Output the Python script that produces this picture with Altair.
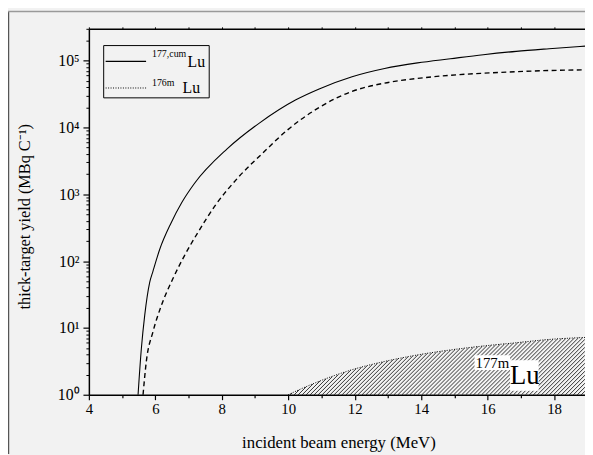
import altair as alt
import numpy as np
import pandas as pd

# ---- data ----
E_CUM = [5.48, 5.58, 5.68, 5.83, 5.93, 6.13, 6.47, 6.80, 7.17, 8.16, 9.14, 10.23, 10.93,
         11.92, 12.90, 13.89, 14.88, 15.87, 16.86, 17.85, 18.93]
Y_CUM = [1.0, 4.96, 15.4, 48, 71, 149, 370, 760, 1440, 4790, 11750, 26000, 37800,
         57500, 76400, 92700, 107000, 123000, 138000, 151000, 165000]

E_176M = [5.63, 5.73, 5.93, 6.18, 6.52, 6.87, 7.27, 7.81, 8.50, 9.25, 9.99, 10.93,
          11.92, 12.90, 13.89, 14.88, 15.87, 16.86, 17.85, 18.93]
Y_176M = [1.0, 3.18, 8.8, 21.6, 53.6, 119, 263, 689, 1800, 4230, 9300, 19950,
          34700, 46200, 54300, 60500, 64900, 68500, 71300, 72900]

E_177M = [10.0, 10.23, 10.93, 11.92, 12.90, 13.89, 14.88, 15.87, 16.86, 17.85, 18.93]
Y_177M = [1.0, 1.13, 1.59, 2.37, 3.15, 3.94, 4.68, 5.36, 6.0, 6.72, 7.2]

X_MAJOR = [4, 6, 8, 10, 12, 14, 16, 18]
X_MINOR = [5, 7, 9, 11, 13, 15, 17]
X_ALL = list(range(4, 19))
Y_MAJOR = [1, 10, 100, 1000, 10000, 100000]
Y_MINOR = [m * 10 ** k for k in range(5) for m in range(2, 10)] + [200000, 300000]
X_DOMAIN = [4, 18.93]
Y_DOMAIN = [1, 3e5]

X_TITLE = "incident beam energy (MeV)"
Y_TITLE = "thick-target yield (MBq C\u207b\u00b9)"
LEG_SUP = ["177,cum", "176m"]
LEG_MAIN = ["Lu", "Lu"]
ANN_SUP = "177m"
ANN_MAIN = "Lu"

W, H = 503, 371
FONT = "Liberation Serif, Times New Roman, serif"
BG = "#f2f2f2"

df_cum = pd.DataFrame({"E": E_CUM, "Y": Y_CUM})
df_176 = pd.DataFrame({"E": E_176M, "Y": Y_176M})
df_177 = pd.DataFrame({"E": E_177M, "Y": Y_177M})

# ---- hatch lines (45 deg in screen space) under the 177mLu curve ----
k = (W / (X_DOMAIN[1] - X_DOMAIN[0])) / (H / (np.log10(Y_DOMAIN[1]) - np.log10(Y_DOMAIN[0])))
grid = np.linspace(E_177M[0], X_DOMAIN[1], 3000)
logc = np.interp(grid, E_177M, np.log10(Y_177M))
rows = []
for e0 in np.arange(E_177M[0] + 0.06, X_DOMAIN[1], 0.12):
    m = grid > e0
    g, lc = grid[m], logc[m]
    f = k * (g - e0) - lc
    if np.any(f >= 0):
        i = int(np.argmax(f >= 0))
        e1, l1 = g[i], lc[i]
    else:
        e1 = X_DOMAIN[1]
        l1 = k * (e1 - e0)
    rows.append({"E": e0, "Y": 1.0, "E2": e1, "Y2": 10 ** l1})
df_hatch = pd.DataFrame(rows)

xs = alt.Scale(domain=X_DOMAIN, nice=False, zero=False)
ys = alt.Scale(type="log", domain=Y_DOMAIN, nice=False)

common = dict(domainColor="black", tickColor="black", labelColor="black",
              labelFont=FONT, titleFont=FONT, titleColor="black",
              titleFontWeight="normal", grid=False)

sup_expr = ("'10' + ['\u2070','\u00b9','\u00b2','\u00b3','\u2074','\u2075','\u2076']"
            "[round(log(datum.value)/LN10)]")

x_major = alt.Axis(orient="bottom", values=X_MAJOR, tickSize=5, tickWidth=1.2,
                   domainWidth=1.5, labelFontSize=15, labelPadding=2, labelFlush=False,
                   title=X_TITLE, titleFontSize=17, titleX=253, titleY=54,
                   titleBaseline="alphabetic", titleAlign="center", **common)
y_major = alt.Axis(orient="left", values=Y_MAJOR, tickSize=6, tickWidth=1.2,
                   domainWidth=1.5, labelFontSize=16, labelPadding=4,
                   labelExpr=sup_expr, title=Y_TITLE, titleFontSize=16.5,
                   titleX=-60, titleY=190, titleBaseline="alphabetic",
                   titleAlign="center", **common)
x_minor = alt.Axis(orient="bottom", values=X_MINOR, tickSize=3, tickWidth=1.2,
                   labels=False, domain=False, title="", **common)
y_minor = alt.Axis(orient="left", values=Y_MINOR, tickSize=3, tickWidth=1,
                   labels=False, domain=False, title="", **common)
x_top = alt.Axis(orient="top", values=X_ALL, tickSize=2, tickWidth=1,
                 labels=False, domainWidth=1.5, title="", **common)

cum = alt.Chart(df_cum).mark_line(color="black", strokeWidth=1.1, interpolate="monotone").encode(
    x=alt.X("E:Q", scale=xs, axis=x_major),
    y=alt.Y("Y:Q", scale=ys, axis=y_major),
)
minor = alt.Chart(df_cum).mark_point(opacity=0).encode(
    x=alt.X("E:Q", scale=xs, axis=x_minor),
    y=alt.Y("Y:Q", scale=ys, axis=y_minor),
)
top = alt.Chart(df_cum).mark_point(opacity=0).encode(
    x=alt.X("E:Q", scale=xs, axis=x_top),
    y=alt.Y("Y:Q", scale=ys, axis=None),
)
m176 = alt.Chart(df_176).mark_line(color="black", strokeWidth=1.4, strokeDash=[5, 3.5],
                                   interpolate="monotone").encode(
    x=alt.X("E:Q", scale=xs, axis=None),
    y=alt.Y("Y:Q", scale=ys, axis=None),
)
hatch = alt.Chart(df_hatch).mark_rule(color="black", strokeWidth=0.8).encode(
    x=alt.X("E:Q", scale=xs, axis=None),
    x2="E2:Q",
    y=alt.Y("Y:Q", scale=ys, axis=None),
    y2="Y2:Q",
)
m177 = alt.Chart(df_177).mark_line(color="black", strokeWidth=1, strokeDash=[1, 1.5],
                                   interpolate="monotone").encode(
    x=alt.X("E:Q", scale=xs, axis=None),
    y=alt.Y("Y:Q", scale=ys, axis=None),
)

one = pd.DataFrame({"a": [0]})
ann_box1 = alt.Chart(one).mark_rect(fill="white").encode(
    x=alt.value(391), x2=alt.value(427), y=alt.value(331), y2=alt.value(346))
ann_box2 = alt.Chart(one).mark_rect(fill="white").encode(
    x=alt.value(427), x2=alt.value(456), y=alt.value(336), y2=alt.value(367))
ann_sup = alt.Chart(one).mark_text(text=ANN_SUP, font=FONT, fontSize=15, align="left",
                                   baseline="alphabetic", color="black").encode(
    x=alt.value(392), y=alt.value(344))
ann_main = alt.Chart(one).mark_text(text=ANN_MAIN, font=FONT, fontSize=27, align="left",
                                    baseline="alphabetic", color="black").encode(
    x=alt.value(427), y=alt.value(360))

leg_box = alt.Chart(one).mark_rect(fill=BG, stroke="black", strokeWidth=1).encode(
    x=alt.value(15), x2=alt.value(122), y=alt.value(17), y2=alt.value(70))
leg_l1 = alt.Chart(one).mark_rule(color="black", strokeWidth=1.1).encode(
    x=alt.value(17), x2=alt.value(58), y=alt.value(33))
leg_l2 = alt.Chart(one).mark_rule(color="black", strokeWidth=1, strokeDash=[1, 1.5]).encode(
    x=alt.value(17), x2=alt.value(58), y=alt.value(60))
leg_s1 = alt.Chart(one).mark_text(text=LEG_SUP[0], font=FONT, fontSize=10, align="left",
                                  baseline="alphabetic", color="black").encode(
    x=alt.value(64), y=alt.value(29))
leg_m1 = alt.Chart(one).mark_text(text=LEG_MAIN[0], font=FONT, fontSize=16, align="left",
                                  baseline="alphabetic", color="black").encode(
    x=alt.value(100), y=alt.value(39))
leg_s2 = alt.Chart(one).mark_text(text=LEG_SUP[1], font=FONT, fontSize=10, align="left",
                                  baseline="alphabetic", color="black").encode(
    x=alt.value(64), y=alt.value(58))
leg_m2 = alt.Chart(one).mark_text(text=LEG_MAIN[1], font=FONT, fontSize=16, align="left",
                                  baseline="alphabetic", color="black").encode(
    x=alt.value(95), y=alt.value(65))

frame_left = alt.Chart(one).mark_rule(color="#555555", strokeWidth=1.5).encode(
    x=alt.value(-81.5), y=alt.value(-18), y2=alt.value(H + 60))
frame_top = alt.Chart(one).mark_rule(color="#9a9a9a", strokeWidth=1.5).encode(
    x=alt.value(-82), x2=alt.value(W + 2), y=alt.value(-17.5))

chart = alt.layer(
    hatch, m177, cum, m176, minor, top,
    ann_box1, ann_box2, ann_sup, ann_main,
    leg_box, leg_l1, leg_l2, leg_s1, leg_m1, leg_s2, leg_m2,
    frame_left, frame_top,
).resolve_axis(x="independent", y="independent").properties(
    width=W, height=H, background=BG,
    padding={"left": 82, "top": 18, "right": 0, "bottom": 58},
    autosize=alt.AutoSizeParams(type="none"),
).configure_view(stroke=None)

chart.save("out.html", embed_options={"renderer": "svg", "actions": False})
